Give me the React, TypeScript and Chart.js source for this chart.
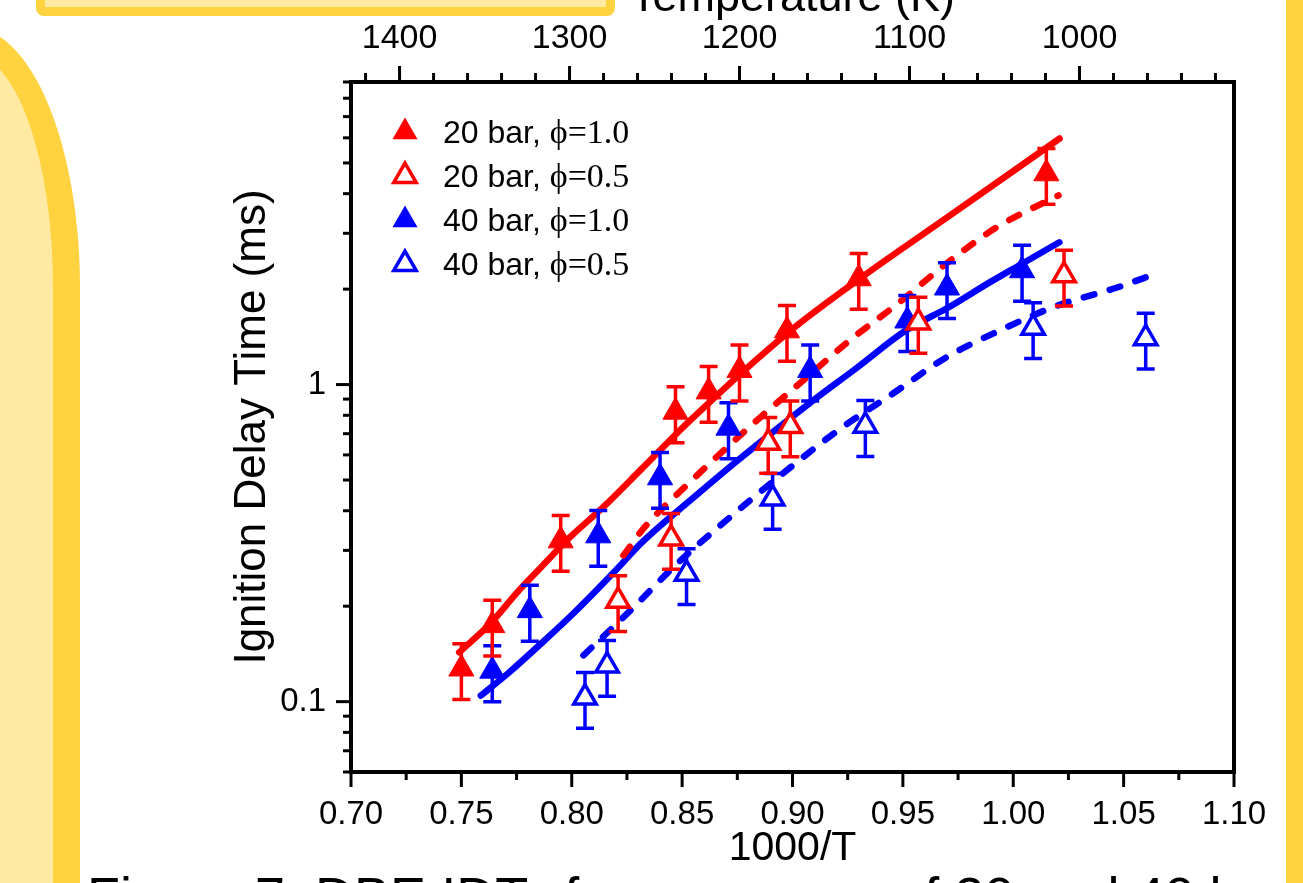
import React, { useEffect, useRef } from 'react';
import { Chart, registerables } from 'chart.js';

Chart.register(...registerables);

const SANS = "'Liberation Sans', Arial, Helvetica, sans-serif";
const SERIF = "'Liberation Serif', 'Times New Roman', serif";

const RED = '#ff0000';
const BLUE = '#0000ff';
const GOLD = '#FFD23F';
const PALE = '#FFE9A3';

// ---------- axis ticks ----------
const X_TICKS = [0.7, 0.725, 0.75, 0.775, 0.8, 0.825, 0.85, 0.875, 0.9, 0.925, 0.95, 0.975, 1.0, 1.025, 1.05, 1.075, 1.1];
const X_MAJOR = [0.7, 0.75, 0.8, 0.85, 0.9, 0.95, 1.0, 1.05, 1.1];
const T_TICKS = [920, 940, 960, 980, 1000, 1020, 1040, 1060, 1080, 1100, 1120, 1140, 1160, 1180, 1200, 1220, 1240, 1260, 1280, 1300, 1320, 1340, 1360, 1380, 1400, 1420];
const T_MAJOR = [1000, 1100, 1200, 1300, 1400];
const Y_TICKS = [0.06, 0.07, 0.08, 0.09, 0.1, 0.2, 0.3, 0.4, 0.5, 0.6, 0.7, 0.8, 0.9, 1, 2, 3, 4, 5, 6, 7, 8, 9];
const Y_MAJOR = [0.1, 1];

// ---------- experimental data (1000/T, IDT ms) ----------
const P20_PHI10_X = [0.750, 0.764, 0.795, 0.847, 0.862, 0.876, 0.8975, 0.930, 1.015];
const P20_PHI10_Y = [0.127, 0.174, 0.322, 0.82, 0.95, 1.11, 1.48, 2.16, 4.63];
const P20_PHI05_X = [0.821, 0.845, 0.889, 0.899, 0.957, 1.023];
const P20_PHI05_Y = [0.208, 0.327, 0.656, 0.74, 1.57, 2.21];
const P40_PHI10_X = [0.764, 0.781, 0.812, 0.840, 0.871, 0.908, 0.952, 0.970, 1.004];
const P40_PHI10_Y = [0.125, 0.194, 0.334, 0.509, 0.73, 1.11, 1.59, 2.02, 2.29];
const P40_PHI05_X = [0.806, 0.816, 0.852, 0.891, 0.933, 1.009, 1.060];
const P40_PHI05_Y = [0.103, 0.130, 0.253, 0.437, 0.742, 1.51, 1.40];
const REL_ERR = 0.2;

// ---------- model curves ----------
const M20_PHI10_X = [0.749, 0.763, 0.776, 0.786, 0.799, 0.814, 0.832, 0.854, 0.8975, 0.9305, 0.9712, 1.021];
const M20_PHI10_Y = [0.143, 0.176, 0.224, 0.265, 0.329, 0.409, 0.545, 0.775, 1.45, 2.16, 3.41, 5.97];
const M20_PHI05_X = [0.8234, 0.8324, 0.8528, 0.8853, 0.9048, 0.926, 0.9477, 0.9698, 0.9924, 1.0205];
const M20_PHI05_Y = [0.289, 0.351, 0.487, 0.787, 1.03, 1.38, 1.80, 2.41, 3.13, 3.95];
const M40_PHI10_X = [0.7588, 0.771, 0.7859, 0.8008, 0.8207, 0.8312, 0.8568, 0.875, 0.9075, 0.9292, 0.9513, 0.9712, 0.9893, 1.0042, 1.0209];
const M40_PHI10_Y = [0.1045, 0.1226, 0.152, 0.190, 0.263, 0.315, 0.45, 0.575, 0.871, 1.13, 1.48, 1.76, 2.10, 2.41, 2.81];
const M40_PHI05_X = [0.8053, 0.8266, 0.8469, 0.8672, 0.8989, 0.9224, 0.9455, 0.9698, 0.9938, 1.0196, 1.0467, 1.0648];
const M40_PHI05_Y = [0.140, 0.194, 0.269, 0.359, 0.547, 0.732, 0.937, 1.22, 1.48, 1.77, 2.02, 2.24];

const LEGEND_PRESSURE = ['20 bar, ', '20 bar, ', '40 bar, ', '40 bar, '];
const LEGEND_PHI = ['\u03d5=1.0', '\u03d5=0.5', '\u03d5=1.0', '\u03d5=0.5'];

const isIn = (v: number, arr: number[]) => arr.some((a) => Math.abs(a - v) < 1e-6);
const toXY = (xs: number[], ys: number[]) => xs.map((x, i) => ({ x, y: ys[i] }));

function expSet(label: string, xs: number[], ys: number[], color: string, filled: boolean) {
  return {
    label,
    data: toXY(xs, ys),
    showLine: false,
    pointStyle: 'triangle',
    pointRadius: filled ? 14.5 : 13,
    pointHoverRadius: filled ? 14.5 : 13,
    pointBackgroundColor: filled ? color : '#ffffff',
    pointBorderColor: color,
    pointBorderWidth: filled ? 1 : 3.5,
    borderColor: color,
    backgroundColor: color,
    order: 0,
    relErr: REL_ERR,
    filled,
  };
}

function modelSet(label: string, xs: number[], ys: number[], color: string, dashed: boolean) {
  return {
    label,
    data: toXY(xs, ys),
    borderColor: color,
    backgroundColor: color,
    borderWidth: 6.5,
    borderDash: dashed ? [11, 16] : [],
    borderCapStyle: 'round',
    borderJoinStyle: 'round',
    pointRadius: 0,
    pointHoverRadius: 0,
    cubicInterpolationMode: 'monotone',
    fill: false,
    order: 1,
  };
}

function triangle(ctx: CanvasRenderingContext2D, x: number, y: number, r: number) {
  ctx.beginPath();
  for (let k = 0; k < 3; k++) {
    const a = (k * 2 * Math.PI) / 3;
    const px = x + Math.sin(a) * r;
    const py = y - Math.cos(a) * r;
    if (k === 0) ctx.moveTo(px, py);
    else ctx.lineTo(px, py);
  }
  ctx.closePath();
}

const errorBarPlugin = {
  id: 'errorBars',
  beforeDatasetDraw(chart: any, args: any) {
    const ds = chart.data.datasets[args.index];
    if (!ds.relErr) return;
    const { ctx } = chart;
    const xs = chart.scales.x;
    const ys = chart.scales.y;
    ctx.save();
    ctx.strokeStyle = ds.borderColor;
    ctx.lineWidth = 3.5;
    ctx.lineCap = 'butt';
    ds.data.forEach((p: any) => {
      const px = xs.getPixelForValue(p.x);
      const y1 = ys.getPixelForValue(p.y * (1 + ds.relErr));
      const y2 = ys.getPixelForValue(p.y * (1 - ds.relErr));
      ctx.beginPath();
      ctx.moveTo(px, y1);
      ctx.lineTo(px, y2);
      ctx.moveTo(px - 9, y1);
      ctx.lineTo(px + 9, y1);
      ctx.moveTo(px - 9, y2);
      ctx.lineTo(px + 9, y2);
      ctx.stroke();
    });
    ctx.restore();
  },
};

const framePlugin = {
  id: 'frameTicks',
  afterDraw(chart: any) {
    const { ctx, chartArea: a, scales } = chart;
    ctx.save();
    ctx.strokeStyle = '#000';
    ctx.lineCap = 'butt';
    ctx.lineWidth = 3;
    const seg = (x1: number, y1: number, x2: number, y2: number) => {
      ctx.beginPath();
      ctx.moveTo(x1, y1);
      ctx.lineTo(x2, y2);
      ctx.stroke();
    };
    X_TICKS.forEach((v) => {
      const px = scales.x.getPixelForValue(v);
      seg(px, a.bottom, px, a.bottom + (isIn(v, X_MAJOR) ? 15 : 8));
    });
    T_TICKS.forEach((v) => {
      const px = scales.x2.getPixelForValue(v);
      seg(px, a.top, px, a.top - (isIn(v, T_MAJOR) ? 16 : 9));
    });
    Y_TICKS.forEach((v) => {
      const py = scales.y.getPixelForValue(v);
      seg(a.left, py, a.left - (isIn(v, Y_MAJOR) ? 15 : 8), py);
    });
    ctx.lineWidth = 4;
    ctx.strokeRect(a.left, a.top, a.right - a.left, a.bottom - a.top);

    // legend
    const exp = chart.data.datasets.filter((d: any) => d.relErr);
    exp.forEach((d: any, i: number) => {
      const rowY = a.top + 52 + i * 44;
      const mx = a.left + 54;
      ctx.save();
      if (d.filled) {
        triangle(ctx, mx, rowY - 2, 14.5);
        ctx.fillStyle = d.borderColor;
        ctx.fill();
      } else {
        triangle(ctx, mx, rowY - 2, 13);
        ctx.fillStyle = '#fff';
        ctx.fill();
        ctx.lineWidth = 3.5;
        ctx.strokeStyle = d.borderColor;
        ctx.stroke();
      }
      ctx.restore();
      ctx.fillStyle = '#000';
      ctx.textBaseline = 'middle';
      ctx.textAlign = 'left';
      const tx = a.left + 92;
      ctx.font = `32px ${SANS}`;
      ctx.fillText(LEGEND_PRESSURE[i], tx, rowY);
      const w = ctx.measureText(LEGEND_PRESSURE[i]).width;
      ctx.font = `34px ${SERIF}`;
      ctx.fillText(LEGEND_PHI[i], tx + w, rowY);
    });
    ctx.restore();
  },
};

export default function App() {
  const ref = useRef<HTMLCanvasElement | null>(null);

  useEffect(() => {
    if (!ref.current) return;
    Chart.defaults.font.family = SANS;
    const chart = new Chart(ref.current, {
      type: 'line',
      data: {
        datasets: [
          expSet('20 bar, \u03d5=1.0', P20_PHI10_X, P20_PHI10_Y, RED, true),
          expSet('20 bar, \u03d5=0.5', P20_PHI05_X, P20_PHI05_Y, RED, false),
          expSet('40 bar, \u03d5=1.0', P40_PHI10_X, P40_PHI10_Y, BLUE, true),
          expSet('40 bar, \u03d5=0.5', P40_PHI05_X, P40_PHI05_Y, BLUE, false),
          modelSet('model 20 bar, \u03d5=1.0', M20_PHI10_X, M20_PHI10_Y, RED, false),
          modelSet('model 20 bar, \u03d5=0.5', M20_PHI05_X, M20_PHI05_Y, RED, true),
          modelSet('model 40 bar, \u03d5=1.0', M40_PHI10_X, M40_PHI10_Y, BLUE, false),
          modelSet('model 40 bar, \u03d5=0.5', M40_PHI05_X, M40_PHI05_Y, BLUE, true),
        ] as any,
      },
      options: {
        responsive: false,
        animation: false,
        devicePixelRatio: 1,
        layout: { padding: { left: 0, right: 69, top: 0, bottom: 0 } },
        plugins: { legend: { display: false }, tooltip: { enabled: false } },
        scales: {
          x: {
            type: 'linear',
            position: 'bottom',
            min: 0.7,
            max: 1.1,
            grid: { display: false },
            border: { display: false },
            afterBuildTicks: (s: any) => {
              s.ticks = X_TICKS.map((v) => ({ value: v }));
            },
            afterFit: (s: any) => {
              s.height = 111;
            },
            ticks: {
              autoSkip: false,
              maxRotation: 0,
              minRotation: 0,
              padding: 15,
              color: '#000',
              font: { size: 33, family: SANS },
              callback: (v: any) => (isIn(Number(v), X_MAJOR) ? Number(v).toFixed(2) : ''),
            },
            title: {
              display: true,
              text: '1000/T',
              color: '#000',
              font: { size: 41, family: SANS },
              padding: { top: 0, bottom: 10 },
            },
          },
          x2: {
            type: 'linear',
            position: 'top',
            reverse: true,
            min: 1000 / 1.1,
            max: 1000 / 0.7,
            grid: { display: false },
            border: { display: false },
            afterBuildTicks: (s: any) => {
              s.ticks = T_TICKS.map((v) => ({ value: v }));
            },
            afterFit: (s: any) => {
              s.height = 132;
            },
            ticks: {
              autoSkip: false,
              maxRotation: 0,
              minRotation: 0,
              padding: 15,
              color: '#000',
              font: { size: 34, family: SANS },
              callback: (v: any) => (isIn(Number(v), T_MAJOR) ? String(Math.round(Number(v))) : ''),
            },
            title: {
              display: true,
              text: 'Temperature (K)',
              color: '#000',
              font: { size: 45, family: SANS },
              padding: { top: 22, bottom: 0 },
            },
          },
          y: {
            type: 'logarithmic',
            position: 'left',
            min: 0.06,
            max: 9,
            grid: { display: false },
            border: { display: false },
            afterBuildTicks: (s: any) => {
              s.ticks = Y_TICKS.map((v) => ({ value: v }));
            },
            afterFit: (s: any) => {
              s.width = 351;
            },
            ticks: {
              autoSkip: false,
              padding: 17,
              color: '#000',
              font: { size: 33, family: SANS },
              callback: (v: any) => (isIn(Number(v), Y_MAJOR) ? String(Number(v)) : ''),
            },
            title: {
              display: true,
              text: 'Ignition Delay Time (ms)',
              color: '#000',
              font: { size: 44, family: SANS },
              padding: { top: 226, bottom: 0 },
            },
          },
        },
      } as any,
      plugins: [errorBarPlugin, framePlugin],
    });
    return () => chart.destroy();
  }, []);

  return (
    <div
      style={{
        position: 'fixed',
        left: 0,
        top: 0,
        width: 1303,
        height: 883,
        overflow: 'hidden',
        background: '#ffffff',
      }}
    >
      <div
        style={{
          position: 'absolute',
          left: 36,
          top: -20,
          width: 579,
          height: 36,
          boxSizing: 'border-box',
          border: `9px solid ${GOLD}`,
          borderRadius: 8,
          background: PALE,
        }}
      />
      <div
        style={{
          position: 'absolute',
          left: -120,
          top: 27,
          width: 200,
          height: 1000,
          boxSizing: 'border-box',
          border: `27px solid ${GOLD}`,
          borderTopRightRadius: '110px 260px',
          background: PALE,
        }}
      />
      <div
        style={{
          position: 'absolute',
          left: 1286,
          top: 0,
          width: 17,
          height: 883,
          background: GOLD,
        }}
      />
      <div style={{ position: 'absolute', left: 0, top: -50, width: 1303, height: 933 }}>
        <canvas ref={ref} width={1303} height={933} style={{ display: 'block', width: 1303, height: 933 }} />
      </div>
      <div
        style={{
          position: 'absolute',
          left: 87,
          top: 869,
          width: 1199,
          overflow: 'hidden',
          whiteSpace: 'nowrap',
          font: `54px ${SANS}`,
          lineHeight: '54px',
          color: '#000',
        }}
      >
        Figure 7: DBE IDTs for pressures of 20 and 40 bar
      </div>
    </div>
  );
}
